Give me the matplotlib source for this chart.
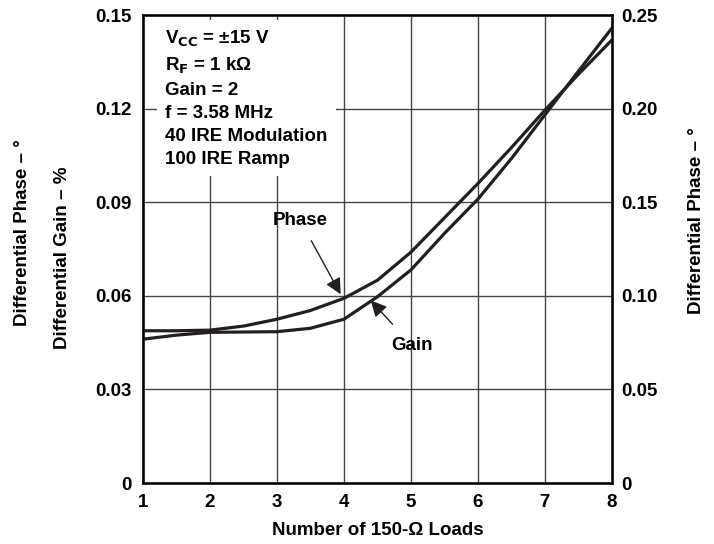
import numpy as np
import matplotlib.pyplot as plt

plt.rcParams['font.family'] = ['Liberation Sans', 'DejaVu Sans']
plt.rcParams['font.weight'] = 'bold'
plt.rcParams['axes.labelweight'] = 'bold'

# datos
loads = [1, 1.5, 2, 2.5, 3, 3.5, 4, 4.5, 5, 5.5, 6, 6.5, 7, 7.5, 8]
phase = [0.0488, 0.0488, 0.0490, 0.0503, 0.0525, 0.0553, 0.0592, 0.0650, 0.0740,
         0.0850, 0.0960, 0.1075, 0.1195, 0.1310, 0.1420]
gain = [0.0461, 0.0474, 0.0483, 0.0484, 0.0485, 0.0496, 0.0525, 0.0597, 0.0683,
        0.0800, 0.0910, 0.1040, 0.1180, 0.1320, 0.1458]

x_ticks = [1, 2, 3, 4, 5, 6, 7, 8]
left_ticks = [0, 0.03, 0.06, 0.09, 0.12, 0.15]
left_labels = ["0", "0.03", "0.06", "0.09", "0.12", "0.15"]
right_ticks = [0, 0.05, 0.10, 0.15, 0.20, 0.25]
right_labels = ["0", "0.05", "0.10", "0.15", "0.20", "0.25"]

conditions = ("V$_{\\mathbf{CC}}$ = \u00b115 V\nR$_{\\mathbf{F}}$ = 1 k\u03a9\nGain = 2\n"
              "f = 3.58 MHz\n40 IRE Modulation\n100 IRE Ramp")

fs = 13.5

fig = plt.figure(figsize=(7.14, 5.44), dpi=100)
ax = fig.add_axes([0.2003, 0.1121, 0.6567, 0.8603])

ax.plot(loads, phase, color="#231f20", lw=2.3, zorder=3, solid_joinstyle="round")
ax.plot(loads, gain, color="#231f20", lw=2.3, zorder=3, solid_joinstyle="round")

ax.set_xlim(1, 8)
ax.set_ylim(0, 0.15)
ax.set_xticks(x_ticks)
ax.set_yticks(left_ticks)
ax.set_yticklabels(left_labels)
ax.grid(True, color="#444444", lw=1.0)
ax.tick_params(direction="in", length=0, labelsize=fs, pad=8)
for s in ax.spines.values():
    s.set_linewidth(2)
    s.set_color("#231f20")

ax.set_xlabel("Number of 150-\u03a9 Loads", fontsize=fs, fontweight="bold", labelpad=8)

ax2 = ax.twinx()
ax2.set_ylim(0, 0.25)
ax2.set_yticks(right_ticks)
ax2.set_yticklabels(right_labels)
ax2.tick_params(direction="in", length=0, labelsize=fs, pad=7)

# cuadro de condiciones
ax.text(1.33, 0.1455, conditions, fontsize=fs, va="top", ha="left",
        linespacing=1.45, zorder=4,
        bbox=dict(facecolor="white", edgecolor="none", pad=6))

# etiquetas con flechas
ax.annotate("Phase", xy=(3.95, 0.0605), xytext=(3.35, 0.0840), fontsize=fs,
            ha="center", va="center",
            arrowprops=dict(arrowstyle="-|>", color="#231f20", lw=1.0,
                            mutation_scale=24, shrinkA=7, shrinkB=0))
ax.annotate("Gain", xy=(4.4, 0.0585), xytext=(5.02, 0.0440), fontsize=fs,
            ha="center", va="center",
            arrowprops=dict(arrowstyle="-|>", color="#231f20", lw=1.0,
                            mutation_scale=24, shrinkA=10, shrinkB=0))

fig.text(0.031, 0.572, "Differential Phase \u2013 \u00b0", rotation=90,
         ha="center", va="center", fontsize=fs, fontweight="bold")
fig.text(0.087, 0.526, "Differential Gain \u2013 %", rotation=90,
         ha="center", va="center", fontsize=fs, fontweight="bold")
fig.text(0.976, 0.594, "Differential Phase \u2013 \u00b0", rotation=90,
         ha="center", va="center", fontsize=fs, fontweight="bold")

fig.savefig("out.png", dpi=100)
